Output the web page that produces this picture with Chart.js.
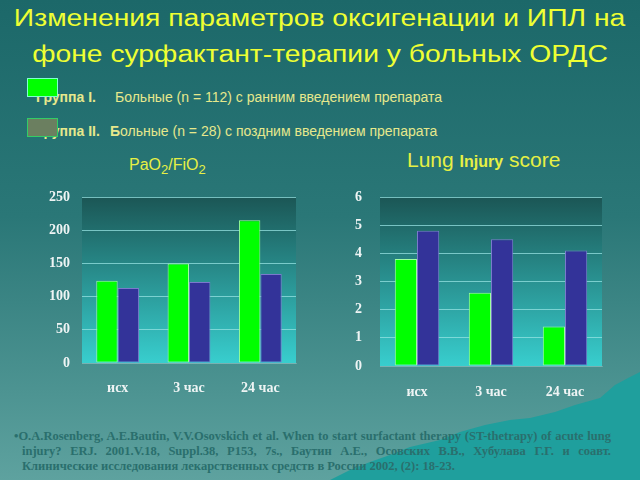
<!DOCTYPE html>
<html>
<head>
<meta charset="utf-8">
<script src="https://cdn.jsdelivr.net/npm/chart.js@4.4.1/dist/chart.umd.min.js"></script>
<style>
  body { margin: 0; }
  #slide {
    position: relative; width: 640px; height: 480px; overflow: hidden;
    background: linear-gradient(#1c6869 0%, #2a7777 45%, #5ea29f 100%);
    font-family: "Liberation Sans", Arial, sans-serif;
  }
  .abs { position: absolute; }
  .title {
    left: 0; width: 640px; text-align: center; color: #eeff33;
    font-size: 23px; white-space: nowrap; line-height: 26px;
  }
  .title span { display: inline-block; transform: scaleX(1.23); }
  .legbox { left: 27px; width: 29px; height: 17px; }
  .legtext { color: #e6e88c; font-size: 14px; white-space: nowrap; line-height: 16px; }
  .sub { color: #e6f044; white-space: nowrap; }
  #note {
    left: 14px; top: 429px; width: 597px; color: #2a6f6d;
    font-family: "Liberation Serif", "Times New Roman", serif; font-weight: bold;
    font-size: 12.5px; line-height: 15px;
  }
  #note div { text-align: justify; text-align-last: justify; white-space: nowrap; }
  #note div.last { text-align-last: left; }
</style>
</head>
<body>
<div id="slide">
  <svg class="abs" style="left:0;top:0" width="640" height="480">
    <polygon fill="#1f9f9d" points="330,480 350,470 370,462 390,455 410,447 440,440 460,432 485,425 510,420 530,418 555,412 575,405 600,398 615,385 630,377 640,372 640,480"/>
  </svg>

  <div class="abs title" style="top:5px"><span>Изменения параметров оксигенации и ИПЛ на</span></div>
  <div class="abs title" style="top:41px"><span>фоне сурфактант-терапии у больных ОРДС</span></div>

  <div class="abs legtext" style="left:36px;top:89px"><b>Группа I.</b></div>
  <div class="abs legtext" style="left:115px;top:89px">Больные (n = 112) с ранним введением препарата</div>
  <div class="abs legbox" style="top:78px;background:#00ff00;border:1px solid #7fffd0"></div>

  <div class="abs legtext" style="left:36px;top:123px"><b>Группа II.</b></div>
  <div class="abs legtext" style="left:110px;top:123px"><b>Б</b>ольные (n = 28) с поздним введением препарата</div>
  <div class="abs legbox" style="top:118px;background:#6b7f60;border:1px solid #33cc66"></div>

  <div class="abs sub" style="left:129px;top:156px;font-size:16px">PaO<sub style="font-size:13px">2</sub>/FiO<sub style="font-size:13px">2</sub></div>
  <div class="abs sub" style="left:407px;top:148px;font-size:21px">Lung <b style="font-size:16px">Injury</b> score</div>

  <div class="abs" style="left:0;top:180px;width:310px;height:220px"><canvas id="pafChart"></canvas></div>
  <div class="abs" style="left:320px;top:180px;width:320px;height:220px"><canvas id="lisChart"></canvas></div>

  <div class="abs" id="note">
    <div>•O.A.Rosenberg, A.E.Bautin, V.V.Osovskich et al. When to start surfactant therapy (ST-thetrapy) of acute lung</div>
    <div style="padding-left:8px">injury? ERJ. 2001.V.18, Suppl.38, P153, 7s., Баутин А.Е., Осовских В.В., Хубулава Г.Г. и соавт.</div>
    <div class="last" style="padding-left:8px">Клинические исследования лекарственных средств в России 2002, (2): 18-23.</div>
  </div>
</div>

<script>
// categories and values
const categories = ['исх', '3 час', '24 час'];
const pafGroup1 = [124, 150, 215];
const pafGroup2 = [113, 122, 134];
const lisGroup1 = [3.8, 2.6, 1.4];
const lisGroup2 = [4.8, 4.5, 4.1];
const pafTicks = [0, 50, 100, 150, 200, 250];
const lisTicks = [0, 1, 2, 3, 4, 5, 6];

// Fill the plot area with the dark-to-cyan gradient of the slide
const plotBackground = {
    id: 'plotBackground',
    beforeDraw(chart) {
        const { ctx, chartArea } = chart;
        const g = ctx.createLinearGradient(0, chartArea.top, 0, chartArea.bottom);
        g.addColorStop(0, '#1b5655');
        g.addColorStop(1, '#38cece');
        ctx.save();
        ctx.fillStyle = g;
        ctx.fillRect(chartArea.left, chartArea.top, chartArea.right - chartArea.left, chartArea.bottom - chartArea.top);
        ctx.restore();
    }
};

function renderChart(id, g1, g2, ticks, opts) {
    const ctx = document.getElementById(id).getContext('2d');
    return new Chart(ctx, {
        type: 'bar',
        data: {
            labels: categories,
            datasets: [
                {
                    label: 'Группа I',
                    data: g1,
                    backgroundColor: '#00ff00',
                    borderColor: '#a0ffa0',
                    borderWidth: 1,
                    borderSkipped: false
                },
                {
                    label: 'Группа II',
                    data: g2,
                    backgroundColor: '#333399',
                    borderColor: '#7a7acc',
                    borderWidth: 1,
                    borderSkipped: false
                }
            ]
        },
        options: {
            responsive: true,
            maintainAspectRatio: false,
            animation: false,
            categoryPercentage: 0.6,
            barPercentage: 1,
            layout: { padding: { left: 0, right: opts.right, top: 17, bottom: 0 } },
            plugins: {
                legend: { display: false },
                tooltip: { enabled: false }
            },
            scales: {
                x: {
                    afterFit: function(scale) { scale.height = opts.xHeight; },
                    grid: { display: false, drawTicks: false },
                    border: { display: true, color: 'rgba(120,170,170,0.8)' },
                    ticks: {
                        padding: opts.xPad,
                        color: '#eef4f4',
                        font: { family: 'Liberation Serif', weight: 'bold', size: 14 }
                    }
                },
                y: {
                    min: ticks[0],
                    max: ticks[ticks.length - 1],
                    afterFit: function(scale) { scale.width = opts.yWidth; },
                    afterBuildTicks: function(scale) {
                        scale.ticks = ticks.map(function(v) { return { value: v }; });
                    },
                    // invisible tick marks push the labels away from the plot
                    grid: {
                        color: 'rgba(150,225,225,0.75)', lineWidth: 1,
                        drawTicks: true, tickLength: opts.yGap, tickColor: 'rgba(0,0,0,0)'
                    },
                    border: { display: false },
                    ticks: {
                        padding: 2,
                        color: '#eef4f4',
                        font: { family: 'Liberation Serif', weight: 'bold', size: 14 }
                    }
                }
            }
        },
        plugins: [plotBackground]
    });
}

renderChart('pafChart', pafGroup1, pafGroup2, pafTicks, { right: 14, xHeight: 37, xPad: 17, yWidth: 82, yGap: 10 });
renderChart('lisChart', lisGroup1, lisGroup2, lisTicks, { right: 38, xHeight: 34, xPad: 18, yWidth: 60, yGap: 16 });
</script>
</body>
</html>
